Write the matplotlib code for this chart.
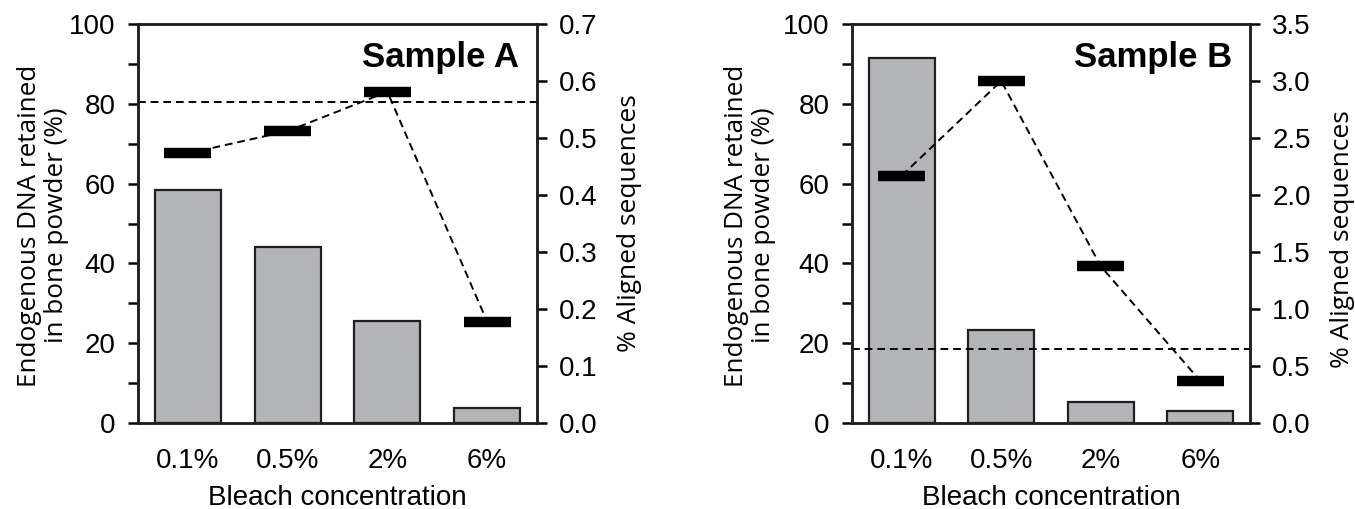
import matplotlib
matplotlib.use("Agg")
import matplotlib.pyplot as plt
import numpy as np

plt.rcParams["font.family"] = ["Liberation Sans", "DejaVu Sans"]

CONC = ["0.1%", "0.5%", "2%", "6%"]

# Sample A
A_DNA = [58.5, 44.0, 25.5, 3.8]          # % endogenous DNA retained (left axis)
A_ALN = [0.473, 0.512, 0.581, 0.178]     # % aligned sequences (right axis)
A_REF = 0.563                            # untreated reference (right axis)

# Sample B
B_DNA = [91.5, 23.3, 5.3, 3.0]
B_ALN = [2.17, 3.00, 1.375, 0.37]
B_REF = 0.645

BAR_COLOR = "#b3b4b8"
FS = 20
LABEL_FONT = ["Open Sans", "DejaVu Sans"]


def panel(rect, dna, aln, ref, rmax, rstep, title, llab_x, rlab_y):
    ax = fig.add_axes(rect)
    x = np.arange(len(CONC))
    ax.bar(x, dna, width=0.66, color=BAR_COLOR, edgecolor="#231f20",
           linewidth=1.6, zorder=1)
    ax.set_xlim(-0.5, len(CONC) - 0.5)
    ax.set_ylim(0, 100)
    ax.set_yticks(np.arange(0, 101, 20))
    ax.set_yticks(np.arange(10, 100, 20), minor=True)
    ax.set_xticks(x)
    ax.set_xticklabels(CONC, fontsize=FS)
    ax.tick_params(axis="x", length=0, pad=18)
    ax.tick_params(axis="y", which="both", direction="out", length=7,
                   width=1.8, labelsize=FS, pad=9)
    ax.set_xlabel("Bleach concentration", fontsize=FS, labelpad=8)
    ax.set_ylabel("Endogenous DNA retained\nin bone powder (%)", fontsize=18.8,
                  family=LABEL_FONT, linespacing=1.12)
    ax.yaxis.set_label_coords(llab_x, 0.495)

    ax2 = ax.twinx()
    ax2.set_ylim(0, rmax)
    ax2.set_yticks(np.arange(0, rmax + 1e-9, rstep))
    ax2.yaxis.set_major_formatter(matplotlib.ticker.FormatStrFormatter("%.1f"))
    ax2.tick_params(axis="y", direction="out", length=7, width=1.8,
                    labelsize=FS, pad=9)
    ax2.axhline(ref, color="black", lw=1.4, ls=(0, (4, 2.5)), zorder=2)
    ax2.plot(x, aln, color="black", lw=1.4, ls=(0, (4, 2.5)), zorder=3)
    ax2.hlines(aln, x - 0.235, x + 0.235, color="black", lw=7.5, zorder=4)
    ax2.set_ylabel("% Aligned sequences", fontsize=19, family=LABEL_FONT)
    ax2.yaxis.set_label_coords(1.2, rlab_y)
    ax2.text(0.955, 0.915, title, transform=ax2.transAxes, ha="right",
             va="center", fontsize=25, fontweight="bold")

    for a in (ax, ax2):
        for s in a.spines.values():
            s.set_linewidth(1.8)
            s.set_color("#231f20")
    return ax


fig = plt.figure(figsize=(13.55, 5.09), dpi=100)
panel([138 / 1355, 1 - 423 / 509, 399 / 1355, 399 / 509],
      A_DNA, A_ALN, A_REF, 0.7, 0.1, "Sample A", -0.172, 0.5)
panel([852 / 1355, 1 - 423 / 509, 398 / 1355, 399 / 509],
      B_DNA, B_ALN, B_REF, 3.5, 0.5, "Sample B", -0.19, 0.46)

fig.savefig("out.png", dpi=100)
